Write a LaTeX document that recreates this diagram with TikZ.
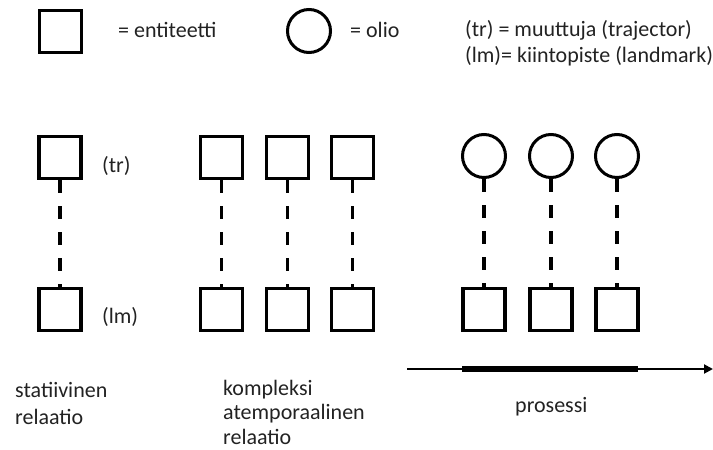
\documentclass[tikz,border=0pt]{standalone}
\usepackage{fontspec}
\setmainfont{Carlito}
\usetikzlibrary{arrows.meta}
\definecolor{txt}{HTML}{222222}
\tikzset{
  ent/.style={draw=black, line width=3.3pt, minimum size=42pt, inner sep=0pt, fill=white},
  obj/.style={draw=black, circle, line width=3pt, minimum size=43pt, inner sep=0pt, fill=white},
  link/.style={draw=black, line width=3.5pt, dash pattern=on 13pt off 13pt},
  lbl/.style={text=txt, font=\fontsize{22}{22}\selectfont, inner sep=0pt, anchor=base west},
  lblb/.style={text=txt, inner sep=0pt, align=left, anchor=base west},
}
\begin{document}
\begin{tikzpicture}[x=1pt,y=-1pt]
\useasboundingbox (0,0) rectangle (713,450);
% legend
\node[ent] (lsq) at (60.5,31.5) {};
\node[lbl] (lsqt) at (118,37) {= entiteetti};
\node[obj] (lci) at (309,31) {};
\node[lbl] (lcit) at (350,37) {= olio};
\node[lbl] (ltr) at (465,36) {(tr) = muuttuja (trajector)};
\node[lbl] (llm) at (465,62) {(lm)= kiintopiste (landmark)};
% stative
\node[ent] (s1) at (60,157.5) {};
\node[ent] (s2) at (60,309.5) {};
\node[lbl] (trt) at (102,172) {(tr)};
\node[lbl] (lmt) at (102,323) {(lm)};
% complex atemporal
\foreach \i/\x in {1/221.5,2/287.5,3/352.5}{
  \node[ent] (c\i) at (\x,157.5) {};
  \node[ent] (d\i) at (\x,309.5) {};
}
% process
\foreach \i/\x in {1/484,2/551,3/617}{
  \node[obj] (p\i) at (\x,156) {};
  \node[ent] (q\i) at (\x,309.5) {};
}
% links
\draw[link] (s1.south) -- (s2.north);
\foreach \i in {1,2,3}{
  \draw[link] (c\i.south) -- (d\i.north);
  \draw[link] (p\i.south) -- (q\i.north);
}
% time arrow
\coordinate (a0) at (407,369);
\coordinate (a1) at (713,369);
\coordinate (b0) at (462,369);
\coordinate (b1) at (638,369);
\draw[line width=2pt, -{Triangle[length=9pt,width=9pt]}] (a0) -- (a1);
\draw[line width=6pt] (b0) -- (b1);
% bottom labels
\node[lblb, font=\fontsize{22}{27}\selectfont] (st) at (15,424) {statiivinen\\relaatio};
\node[lblb, font=\fontsize{22}{24.5}\selectfont] (ca) at (223,444) {kompleksi\\atemporaalinen\\relaatio};
\node[lbl] (pr) at (515,412) {prosessi};
\end{tikzpicture}
\end{document}
